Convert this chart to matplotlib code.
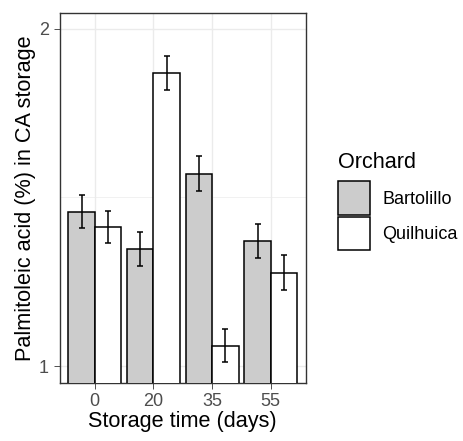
import numpy as np
import matplotlib.pyplot as plt
from matplotlib.patches import Patch

# ---------------- Data ------------------------
days = ["0", "20", "35", "55"]
bartolillo = [1.458, 1.347, 1.570, 1.370]
bartolillo_se = [0.050, 0.050, 0.052, 0.051]
quilhuica = [1.413, 1.870, 1.060, 1.277]
quilhuica_se = [0.048, 0.050, 0.049, 0.051]

plt.rcParams["font.family"] = ["Liberation Sans", "DejaVu Sans"]

BASE = 15.6
TICK_FS = 13
TEXT_GREY = "#4D4D4D"

fig = plt.figure(figsize=(4.63, 4.41), dpi=100)
ax = fig.add_axes([59.5 / 463, 1 - 383 / 441, (306 - 59.5) / 463, (383 - 13) / 441])

x = np.arange(len(days))
w = 0.45
err_kw = {"elinewidth": 1.1, "capthick": 1.1, "ecolor": "black"}

ax.bar(x - w / 2, bartolillo, w, color="#CCCCCC", edgecolor="black", linewidth=1.1,
       yerr=bartolillo_se, capsize=2.3, error_kw=err_kw, label="Bartolillo", zorder=3)
ax.bar(x + w / 2, quilhuica, w, color="white", edgecolor="black", linewidth=1.1,
       yerr=quilhuica_se, capsize=2.3, error_kw=err_kw, label="Quilhuica", zorder=3)

# ---------------- Styling (theme_bw look) ------------------------
ax.set_xlim(-0.6, 3.6)
ax.set_ylim(0.9496, 2.047)
ax.set_xticks(x)
ax.set_xticklabels(days)
ax.set_yticks([1, 2])
ax.set_yticks([1.5], minor=True)
ax.tick_params(axis="both", which="major", labelsize=TICK_FS, labelcolor=TEXT_GREY,
               color="#333333", length=4, width=0.6, pad=3.5)
ax.tick_params(axis="y", which="minor", length=0)

ax.grid(True, which="major", color="#EBEBEB", linewidth=1.0, zorder=0)
ax.grid(True, which="minor", axis="y", color="#EBEBEB", linewidth=0.5, zorder=0)
ax.set_axisbelow(True)
for s in ax.spines.values():
    s.set_color("#333333")
    s.set_linewidth(1.0)

ax.set_xlabel("Storage time (days)", fontsize=BASE, labelpad=0.5)
ax.set_ylabel("Palmitoleic acid (%) in CA storage", fontsize=BASE, labelpad=2.5)

# ---------------- Legend ------------------------
fig.text(338 / 463, 1 - 168 / 441, "Orchard", fontsize=BASE, ha="left", va="baseline")
handles = [Patch(facecolor="#CCCCCC", edgecolor="black", linewidth=1.1),
           Patch(facecolor="white", edgecolor="black", linewidth=1.1)]
leg = fig.legend(handles, ["Bartolillo", "Quilhuica"],
                 loc="upper left", bbox_to_anchor=(337.5 / 463, 1 - 181.5 / 441),
                 fontsize=TICK_FS, frameon=False, borderpad=0, borderaxespad=0,
                 handlelength=1.82, handleheight=2.45, labelspacing=0.12,
                 handletextpad=0.65)

fig.patch.set_facecolor("white")
fig.savefig("out.png", dpi=100)
